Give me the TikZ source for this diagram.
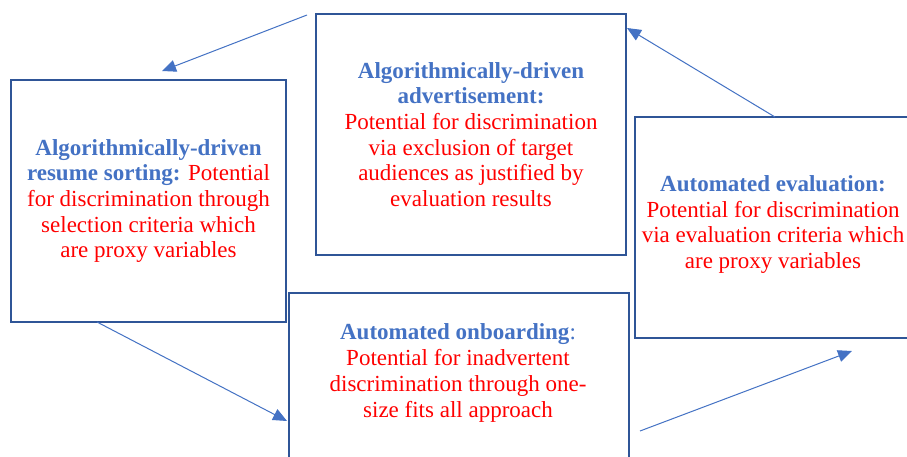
\documentclass[tikz,border=0pt]{standalone}
\usepackage{fontspec}
\setmainfont{Liberation Serif}
\usetikzlibrary{arrows.meta,calc}
\definecolor{boxblue}{HTML}{2F5597}
\definecolor{arrblue}{HTML}{4472C4}
\definecolor{ttlblue}{HTML}{4472C4}
\definecolor{txtred}{HTML}{FF0000}
\newcommand{\ttl}[1]{\textcolor{ttlblue}{\bfseries #1}}
\newcommand{\rd}[1]{\textcolor{txtred}{#1}}
\tikzset{
  stagebox/.style={draw=boxblue, line width=1.8pt, fill=white, inner sep=0pt},
  stagetext/.style={align=center, inner sep=0pt, font=\fontsize{23}{25.7}\selectfont},
  flowarrow/.style={draw=arrblue, line width=1pt, -{Triangle[length=14pt,width=12pt]}}
}
\begin{document}
\begin{tikzpicture}[x=1pt,y=-1pt]
\path[use as bounding box, clip] (0,0) rectangle (907,456);
\fill[white] (0,0) rectangle (907,456);

\node[stagebox, minimum width=275pt, minimum height=242pt] (resume) at (148.5,201) {};
\node[stagetext] (resumet) at (148.5,201)
  {\ttl{Algorithmically-driven}\\ \ttl{resume sorting:} \rd{Potential}\\ \rd{for discrimination through}\\ \rd{selection criteria which}\\ \rd{are proxy variables}};

\node[stagebox, minimum width=310pt, minimum height=241pt] (adv) at (471,134.5) {};
\node[stagetext] (advt) at (471,134.5)
  {\ttl{Algorithmically-driven}\\ \ttl{advertisement:}\\ \rd{Potential for discrimination}\\ \rd{via exclusion of target}\\ \rd{audiences as justified by}\\ \rd{evaluation results}};

\node[stagebox, minimum width=276pt, minimum height=221pt] (eval) at (773,227.5) {};
\node[stagetext] (evalt) at (773,224.5)
  {\ttl{Automated evaluation:}\\ \rd{Potential for discrimination}\\ \rd{via evaluation criteria which}\\ \rd{are proxy variables}};

\node[stagebox, minimum width=340pt, minimum height=180pt] (onb) at (459,383) {};
\node[stagetext] (onbt) at (458,373)
  {\ttl{Automated onboarding}\textcolor{ttlblue}{:}\\ \rd{Potential for inadvertent}\\ \rd{discrimination through one-}\\ \rd{size fits all approach}};

\coordinate (a1s) at (307,15);
\coordinate (a1e) at (162,71);
\coordinate (a2s) at (97,322);
\coordinate (a2e) at (287,421);
\coordinate (a3s) at (640,431);
\coordinate (a3e) at (852,351);
\coordinate (a4s) at (775,117);
\coordinate (a4e) at (627,28);

\draw[flowarrow] (a1s) -- (a1e);
\draw[flowarrow] (a2s) -- (a2e);
\draw[flowarrow] (a3s) -- (a3e);
\draw[flowarrow] (a4s) -- (a4e);
\end{tikzpicture}
\end{document}
